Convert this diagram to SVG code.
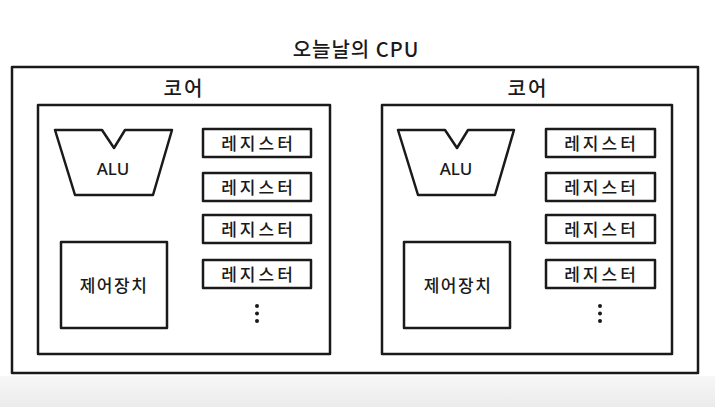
<svg xmlns="http://www.w3.org/2000/svg" width="715" height="407" viewBox="0 0 715 407">
<defs>
<linearGradient id="band" x1="0" y1="0" x2="0" y2="1">
<stop offset="0" stop-color="#f7f7f7"/>
<stop offset="1" stop-color="#ebebeb"/>
</linearGradient>
</defs>
<style>
.box{fill:#fff;stroke:#1a1a1a;stroke-width:2.5;stroke-linejoin:round}
.t{font-family:"Noto Sans CJK KR","Noto Sans",sans-serif;fill:#1a1a1a;text-anchor:middle;font-weight:500}
.title{font-size:20px;letter-spacing:1px}
.core{font-size:20px;letter-spacing:2px}
.reg{font-size:17px;letter-spacing:3px}
.alu{font-size:17px;font-family:"Noto Sans","Liberation Sans",sans-serif}
.cu{font-size:17px;letter-spacing:1.5px}
.dot{fill:#1a1a1a}
</style>
<rect x="0" y="0" width="715" height="407" fill="#fff"/>
<rect x="0" y="376" width="715" height="31" fill="url(#band)"/>
<g id="cpu">
<rect class="box" x="12" y="67" width="686" height="306"/>
<text class="t title" x="356" y="57">오늘날의 CPU</text>
</g>
<g id="core1">
<text class="t core" x="184" y="96">코어</text>
<rect class="box" x="38" y="105" width="292" height="249"/>
</g>
<g id="alu1">
<path class="box" d="M55 130 L102 130 L114 148 L125 130 L172 130 L153 195 L75 195 Z"/>
<text class="t alu" x="113" y="175">ALU</text>
</g>
<g id="cu1">
<rect class="box" x="61" y="242" width="106" height="86"/>
<text class="t cu" x="114" y="292">제어장치</text>
</g>
<g id="regs1">
<rect class="box" x="203" y="129" width="108" height="28"/>
<text class="t reg" x="258.5" y="150">레지스터</text>
<rect class="box" x="203" y="173" width="108" height="28"/>
<text class="t reg" x="258.5" y="194">레지스터</text>
<rect class="box" x="203" y="215" width="108" height="28"/>
<text class="t reg" x="258.5" y="236">레지스터</text>
<rect class="box" x="203" y="260" width="108" height="28"/>
<text class="t reg" x="258.5" y="281">레지스터</text>
<circle class="dot" cx="257" cy="306" r="2"/>
<circle class="dot" cx="257" cy="313.5" r="2"/>
<circle class="dot" cx="257" cy="321" r="2"/>
</g>
<g id="core2">
<text class="t core" x="528" y="96">코어</text>
<rect class="box" x="382" y="105" width="290" height="249"/>
</g>
<g id="alu2">
<path class="box" d="M398 130 L445 130 L457 148 L468 130 L514 130 L495 195 L418 195 Z"/>
<text class="t alu" x="456" y="175">ALU</text>
</g>
<g id="cu2">
<rect class="box" x="404" y="242" width="106" height="86"/>
<text class="t cu" x="458" y="292">제어장치</text>
</g>
<g id="regs2">
<rect class="box" x="546" y="129" width="109" height="28"/>
<text class="t reg" x="601.5" y="150">레지스터</text>
<rect class="box" x="546" y="173" width="109" height="28"/>
<text class="t reg" x="601.5" y="194">레지스터</text>
<rect class="box" x="546" y="215" width="109" height="28"/>
<text class="t reg" x="601.5" y="236">레지스터</text>
<rect class="box" x="546" y="260" width="109" height="28"/>
<text class="t reg" x="601.5" y="281">레지스터</text>
<circle class="dot" cx="600" cy="306" r="2"/>
<circle class="dot" cx="600" cy="313.5" r="2"/>
<circle class="dot" cx="600" cy="321" r="2"/>
</g>
<g id="connectors"></g>
</svg>
